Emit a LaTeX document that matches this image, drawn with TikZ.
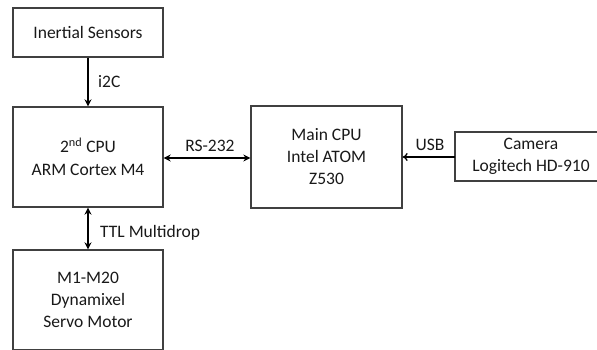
\documentclass[tikz,border=0pt]{standalone}
\usepackage{fontspec}
\setmainfont{Carlito}
\usetikzlibrary{arrows.meta}
\begin{document}
\begin{tikzpicture}[x=1pt,y=-1pt,
  box/.style={draw=black!75,line width=1.3pt,fill=white,align=center,inner sep=0pt,text=black!90,font=\fontsize{17.5}{22}\selectfont},
  edge/.style={draw=black!75,line width=1.3pt},
  conn/.style={line width=1.7pt,-{Stealth[length=7pt,width=7pt]}},
  biconn/.style={line width=1.7pt,{Stealth[length=7pt,width=7pt]}-{Stealth[length=7pt,width=7pt]}},
  lbl/.style={font=\fontsize{17.5}{22}\selectfont,inner sep=0pt,text=black!90}]
\useasboundingbox (0,0) rectangle (597,350);
\clip (0,0) rectangle (597,350);
\node[box,minimum width=150pt,minimum height=49pt] (inert) at (88,32.5) {Inertial Sensors};
\node[box,minimum width=150pt,minimum height=100pt] (cpu2) at (88,157) {2\textsuperscript{nd} CPU\\[1pt]ARM Cortex M4};
\node[box,minimum width=151pt,minimum height=102pt] (main) at (326.5,157) {Main CPU\\Intel ATOM\\Z530};
\coordinate (camNE) at (610,132);
\coordinate (camSE) at (610,181);
\node[align=center,inner sep=0pt,text=black!90,font=\fontsize{17.5}{22}\selectfont] (cam) at (531,156.5) {Camera\\Logitech HD-910};
\coordinate (camW) at (455,157);
\draw[edge] (camNE) -- (455,132) -- (455,181) -- (camSE);
\node[box,minimum width=150pt,minimum height=100pt] (servo) at (88,300) {M1-M20\\Dynamixel\\Servo Motor};
\draw[conn] (inert) -- (cpu2);
\node[lbl,anchor=west] (i2c) at (98,82) {i2C};
\draw[biconn] (cpu2.east |- 0,158) -- (main.west |- 0,158);
\node[lbl] (rs) at (210,146) {RS-232};
\draw[line width=1.3pt,-{To[length=5pt,width=8pt]}] (camW) -- (main.east |- 0,157);
\node[lbl] (usb) at (430,145) {USB};
\draw[biconn] (cpu2) -- (servo);
\node[lbl,anchor=west] (ttl) at (100,233) {TTL Multidrop};
\end{tikzpicture}
\end{document}
